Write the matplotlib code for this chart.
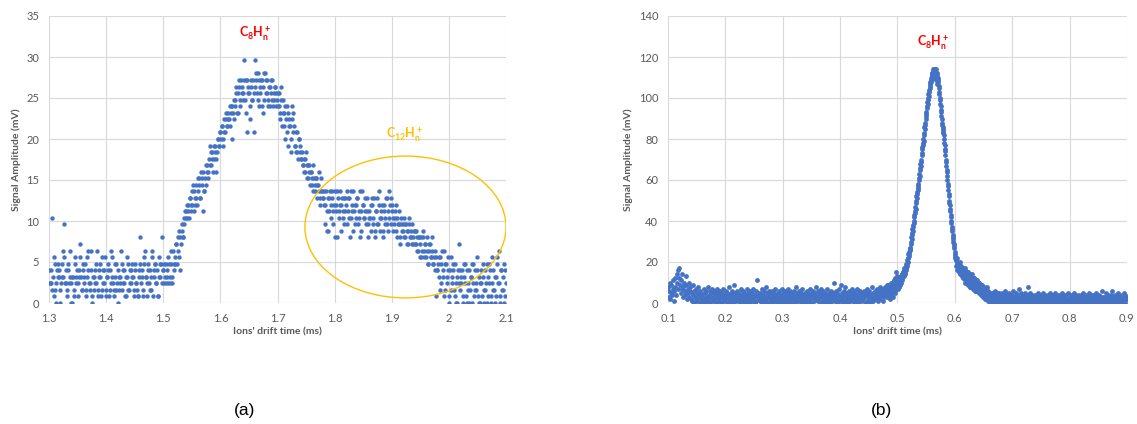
"""Ion drift-time spectra, panels (a) and (b)."""
import numpy as np
import matplotlib
matplotlib.use('Agg')
import matplotlib.pyplot as plt
from matplotlib.patches import Ellipse

# ---- panel (a): 1.3-2.1 ms, signal quantised in 0.8 mV steps ----
# two interleaved sample sets (even and odd microseconds)
a_step_mv = 0.8
a_even_start, a_even_end = 1.300, 2.100
a_levels = [
    5, 3, 3, 13, 7, 2, 0, 5, 6, 4, 0, 4, 8, 12, 3, 5, 2, 6, 4, 3,
    0, 4, 1, 7, 4, 3, 5, 9, 4, 2, 6, 4, 1, 7, 5, 3, 2, 8, 0, 4,
    5, 3, 8, 1, 4, 6, 2, 5, 3, 7, 1, 4, 5, 2, 8, 4, 3, 1, 6, 2,
    0, 4, 3, 8, 2, 5, 3, 1, 4, 6, 2, 3, 5, 4, 1, 6, 3, 2, 1, 5,
    10, 4, 1, 6, 8, 4, 3, 5, 2, 4, 7, 1, 5, 6, 3, 1, 7, 4, 6, 10,
    5, 3, 6, 4, 3, 6, 4, 8, 3, 6, 7, 9, 6, 10, 11, 5, 12, 10, 13, 14,
    14, 13, 15, 16, 14, 15, 18, 17, 15, 16, 19, 18, 16, 20, 19, 14, 17, 21, 20, 19,
    22, 24, 21, 23, 22, 24, 20, 23, 25, 24, 26, 27, 25, 28, 26, 29, 27, 28, 30, 29,
    25, 29, 31, 30, 32, 29, 33, 31, 34, 32, 31, 37, 34, 26, 33, 32, 28, 34, 31, 26,
    37, 34, 32, 35, 30, 33, 34, 29, 31, 35, 34, 32, 30, 33, 34, 31, 30, 32, 33, 30,
    32, 30, 29, 33, 27, 31, 29, 25, 30, 24, 28, 27, 23, 30, 29, 24, 23, 26, 22, 25,
    23, 22, 21, 22, 20, 23, 21, 19, 21, 20, 18, 21, 19, 17, 19, 18, 20, 16, 19, 17,
    16, 17, 15, 11, 16, 14, 17, 15, 16, 14, 17, 15, 10, 16, 14, 17, 15, 13, 16, 14,
    15, 17, 14, 16, 13, 15, 17, 14, 12, 15, 16, 13, 10, 14, 17, 15, 13, 14, 16, 12,
    14, 13, 15, 16, 13, 11, 14, 16, 12, 15, 13, 14, 11, 15, 13, 16, 12, 14, 17, 16,
    15, 13, 12, 14, 11, 13, 12, 10, 13, 11, 12, 10, 12, 11, 9, 12, 10, 11, 9, 10,
    11, 9, 10, 8, 10, 9, 7, 10, 8, 9, 7, 8, 6, 9, 7, 8, 6, 7, 5, 1,
    5, 7, 2, 6, 8, 4, 1, 6, 3, 7, 0, 5, 2, 4, 6, 1, 3, 0, 5, 9,
    2, 4, 0, 6, 3, 1, 5, 2, 0, 4, 6, 3, 1, 5, 2, 7, 0, 3, 5, 1,
    4, 0, 2, 6, 1, 3, 5, 0, 7, 2, 4, 1, 6, 3, 8, 0, 5, 2, 6, 1,
    3,
]
a_odd_start, a_odd_end = 1.301, 2.099
a_levels_odd = [
    3, 5, 2, 4, 1, 6, 3, 4, 5, 2, 3, 6, 4, 7, 3, 1, 5, 3, 8, 0,
    4, 2, 6, 3, 5, 1, 4, 7, 2, 5, 3, 6, 2, 4, 8, 3, 5, 1, 4, 2,
    3, 6, 2, 5, 4, 1, 7, 3, 5, 2, 4, 6, 1, 5, 3, 7, 2, 4, 6, 3,
    5, 2, 4, 6, 3, 5, 1, 4, 7, 2, 5, 3, 6, 4, 2, 5, 3, 1, 4, 6,
    3, 5, 2, 7, 4, 1, 6, 3, 5, 2, 8, 4, 6, 3, 5, 1, 4, 6, 3, 5,
    6, 4, 3, 5, 7, 3, 6, 4, 8, 5, 6, 9, 8, 7, 10, 9, 11, 10, 12, 13,
    15, 14, 13, 16, 15, 17, 14, 16, 18, 15, 17, 19, 16, 18, 20, 17, 19, 18, 21, 20,
    21, 23, 22, 20, 24, 23, 22, 25, 24, 26, 25, 27, 24, 26, 28, 27, 29, 28, 27, 30,
    30, 28, 31, 33, 29, 32, 34, 30, 33, 32, 34, 31, 29, 34, 32, 30, 33, 31, 34, 32,
    33, 35, 31, 34, 32, 34, 30, 33, 35, 32, 34, 31, 33, 30, 32, 34, 31, 33, 32, 31,
    30, 32, 28, 31, 29, 27, 30, 28, 26, 29, 27, 25, 28, 26, 27, 24, 26, 23, 25, 24,
    22, 23, 21, 20, 22, 19, 21, 20, 18, 20, 19, 17, 18, 19, 16, 18, 17, 15, 17, 16,
    15, 12, 17, 14, 11, 16, 13, 17, 12, 15, 10, 14, 17, 13, 15, 11, 16, 14, 12, 16,
    12, 16, 13, 10, 17, 14, 11, 15, 13, 16, 12, 14, 17, 11, 15, 13, 16, 12, 14, 10,
    13, 11, 15, 12, 16, 10, 14, 12, 17, 11, 13, 15, 10, 14, 12, 16, 11, 13, 15, 12,
    14, 11, 13, 15, 10, 12, 14, 9, 12, 11, 13, 10, 12, 9, 11, 13, 10, 12, 9, 11,
    9, 11, 8, 10, 7, 10, 8, 11, 7, 9, 10, 6, 8, 9, 7, 10, 6, 8, 7, 5,
    6, 4, 7, 3, 5, 8, 2, 6, 4, 5, 1, 7, 3, 5, 2, 6, 0, 4, 3, 5,
    3, 5, 1, 4, 6, 0, 3, 5, 2, 4, 0, 6, 2, 3, 5, 1, 4, 0, 3, 6,
    2, 5, 3, 0, 4, 6, 1, 3, 5, 2, 0, 4, 7, 3, 1, 5, 2, 4, 0, 5,
]

# ---- panel (b): 0.1-0.9 ms, signal in mV ----
b_start, b_end = 0.1, 0.9
b_signal = [
    8, 3, 6, 10, 2, 5, 9, 4, 7, 11, 1, 6, 12, 8, 4, 10, 14, 7, 16, 17,
    12, 9, 5, 11, 7, 14, 3, 8, 10, 6, 4, 9, 13, 2, 7, 5, 10, 3, 6, 8,
    2, 5, 1, 9, 4, 0, 6, 3, 7, 2, 5, 1, 4, 8, 3, 0, 6, 2, 5, 3,
    4, 1, 7, 2, 5, 0, 3, 6, 2, 8, 1, 4, 3, 6, 0, 5, 2, 7, 3, 1,
    5, 2, 6, 0, 4, 3, 7, 1, 5, 2, 4, 6, 0, 3, 5, 1, 7, 2, 4, 3,
    1, 6, 3, 5, 0, 4, 2, 8, 3, 1, 5, 2, 6, 0, 4, 9, 2, 5, 1, 3,
    6, 2, 4, 1, 5, 3, 0, 7, 2, 4, 6, 1, 3, 5, 2, 0, 4, 7, 1, 3,
    5, 2, 0, 6, 3, 4, 1, 5, 2, 7, 3, 0, 4, 6, 1, 11, 3, 5, 2, 4,
    1, 5, 3, 7, 0, 4, 2, 6, 3, 1, 8, 2, 5, 0, 4, 3, 6, 1, 5, 2,
    4, 0, 6, 3, 2, 5, 1, 7, 3, 4, 0, 5, 2, 6, 3, 1, 4, 2, 7, 0,
    3, 5, 1, 4, 6, 2, 0, 5, 3, 7, 1, 4, 2, 6, 0, 3, 5, 2, 4, 1,
    6, 3, 0, 8, 2, 5, 1, 4, 3, 6, 2, 0, 5, 3, 7, 1, 4, 2, 5, 3,
    0, 4, 6, 2, 5, 1, 3, 7, 2, 4, 0, 5, 3, 6, 1, 4, 2, 5, 8, 3,
    2, 6, 1, 4, 3, 5, 0, 7, 2, 4, 6, 1, 3, 0, 5, 2, 4, 7, 1, 3,
    5, 2, 4, 0, 6, 3, 1, 5, 2, 10, 4, 1, 6, 3, 0, 5, 2, 4, 7, 3,
    1, 9, 3, 5, 2, 0, 6, 4, 1, 8, 3, 5, 2, 4, 0, 6, 3, 1, 5, 2,
    4, 7, 2, 5, 0, 3, 6, 1, 4, 2, 7, 3, 0, 5, 2, 6, 4, 1, 3, 5,
    2, 6, 3, 0, 5, 4, 1, 7, 3, 5, 2, 6, 0, 4, 3, 8, 2, 5, 1, 4,
    6, 3, 5, 2, 7, 4, 1, 6, 3, 8, 2, 5, 4, 7, 1, 6, 3, 5, 8, 4,
    5, 8, 3, 6, 9, 4, 7, 2, 8, 5, 10, 6, 3, 9, 7, 11, 5, 8, 15, 10,
    9, 7, 11, 8, 12, 10, 13, 11, 14, 13, 15, 14, 17, 15, 18, 17, 19, 21, 22, 24,
    25, 26, 27, 30, 32, 33, 36, 38, 40, 43, 45, 47, 50, 52, 54, 56, 58, 61, 63, 66,
    68, 70, 73, 76, 78, 80, 83, 86, 88, 91, 93, 96, 98, 100, 102, 104, 105, 107, 109, 110,
    111, 112, 113, 114, 112, 114, 113, 114, 112, 110, 108, 110, 105, 102, 99, 96, 93, 90, 87, 85,
    84, 80, 77, 74, 70, 67, 64, 60, 57, 53, 50, 48, 45, 42, 39, 36, 33, 31, 29, 27,
    24, 22, 21, 19, 20, 17, 18, 16, 19, 15, 17, 14, 16, 13, 15, 12, 14, 17, 11, 13,
    14, 10, 12, 15, 9, 13, 11, 8, 12, 10, 14, 7, 11, 9, 12, 6, 10, 8, 11, 7,
    9, 6, 10, 5, 8, 7, 4, 9, 6, 3, 8, 5, 7, 2, 6, 4, 8, 3, 5, 2,
    4, 1, 5, 3, 0, 4, 2, 5, 1, 3, 6, 0, 2, 4, 1, 3, 0, 5, 2, 1,
    3, 0, 2, 5, 1, 4, 0, 3, 6, 2, 1, 4, 0, 3, 2, 5, 1, 0, 3, 2,
    4, 1, 6, 2, 0, 3, 5, 1, 2, 4, 0, 3, 7, 1, 2, 5, 0, 3, 1, 4,
    2, 0, 5, 3, 1, 4, 2, 8, 0, 3, 1, 5, 2, 0, 4, 1, 3, 2, 0, 4,
    1, 3, 0, 4, 2, 5, 1, 0, 3, 2, 4, 1, 0, 3, 5, 2, 1, 4, 0, 2,
    3, 1, 4, 0, 2, 5, 1, 3, 0, 2, 4, 1, 3, 0, 5, 2, 1, 3, 0, 4,
    2, 0, 3, 1, 4, 2, 0, 5, 1, 3, 2, 0, 4, 1, 3, 0, 2, 5, 1, 2,
    0, 3, 1, 4, 2, 0, 3, 1, 5, 2, 0, 4, 1, 3, 2, 0, 4, 1, 2, 3,
    1, 4, 0, 2, 5, 1, 3, 0, 2, 4, 1, 0, 3, 2, 5, 1, 0, 3, 2, 4,
    0, 2, 4, 1, 3, 0, 5, 2, 1, 3, 0, 2, 4, 1, 0, 3, 2, 6, 1, 3,
    2, 0, 3, 1, 5, 2, 0, 4, 1, 3, 2, 0, 4, 1, 6, 2, 0, 3, 1, 4,
    1, 3, 0, 2, 5, 1, 3, 0, 4, 2, 1, 3, 0, 2, 5, 1, 4, 0, 2, 3,
    2,
]
# second pass over the peak region (half-microsecond offset)
b_peak_start, b_peak_end = 0.4805, 0.6995
b_peak_signal = [
    6, 4, 9, 5, 7, 3, 8, 6, 10, 4, 7, 9, 5, 11, 8, 6, 12, 9, 13, 11,
    10, 8, 12, 9, 11, 13, 10, 14, 12, 15, 13, 16, 14, 17, 16, 19, 18, 20, 22, 23,
    24, 27, 26, 29, 31, 34, 35, 37, 39, 42, 44, 46, 49, 51, 53, 55, 57, 60, 62, 65,
    67, 69, 72, 75, 77, 79, 82, 85, 87, 90, 92, 95, 97, 99, 101, 103, 106, 108, 108, 111,
    112, 110, 114, 113, 111, 113, 112, 109, 111, 107, 109, 106, 103, 100, 97, 94, 91, 88, 86, 83,
    82, 78, 75, 72, 69, 65, 62, 58, 55, 52, 49, 46, 43, 40, 37, 35, 32, 30, 28, 25,
    23, 21, 18, 22, 16, 19, 15, 17, 20, 14, 16, 18, 13, 15, 17, 12, 14, 16, 10, 12,
    12, 15, 9, 11, 13, 8, 12, 10, 14, 9, 11, 8, 12, 7, 10, 9, 11, 6, 9, 8,
    7, 10, 5, 8, 6, 9, 4, 7, 5, 8, 3, 6, 4, 7, 2, 5, 3, 6, 1, 4,
    3, 0, 4, 2, 5, 1, 3, 0, 2, 4, 1, 3, 0, 2, 5, 1, 3, 0, 2, 4,
    2, 4, 1, 3, 0, 2, 5, 1, 3, 0, 2, 4, 1, 3, 0, 2, 1, 4, 0, 3,
]

BLUE = '#4472C4'
GREY = '#595959'
GRID = '#D9D9D9'

plt.rcParams['font.family'] = ['Lato', 'DejaVu Sans']
plt.rcParams['mathtext.fontset'] = 'custom'
plt.rcParams['mathtext.bf'] = 'Lato:bold'
plt.rcParams['mathtext.rm'] = 'Lato'


def style_axes(ax, xlim, xticks, ylim, yticks):
    ax.set_xlim(*xlim)
    ax.set_ylim(*ylim)
    ax.set_xticks(xticks)
    ax.set_yticks(yticks)
    ax.set_xticklabels(['{:g}'.format(t) for t in xticks])
    ax.grid(True, color=GRID, lw=0.8)
    ax.set_axisbelow(True)
    for s in ax.spines.values():
        s.set_visible(False)
    ax.tick_params(length=0, labelsize=8, labelcolor=GREY, pad=7)
    ax.set_xlabel("Ions' drift time (ms)", fontsize=7.5, fontweight='bold',
                  color=GREY, labelpad=3)
    ax.set_ylabel('Signal Amplitude (mV)', fontsize=7.5, fontweight='bold',
                  color=GREY, labelpad=4)


fig = plt.figure(figsize=(11.37, 4.24), dpi=100)

# panel (a)
ax1 = fig.add_axes([49 / 1137, 121 / 424, 457 / 1137, 287 / 424])
xa = np.linspace(a_even_start, a_even_end, len(a_levels))
xa2 = np.linspace(a_odd_start, a_odd_end, len(a_levels_odd))
ax1.scatter(xa, np.array(a_levels) * a_step_mv, s=10, color=BLUE, lw=0, zorder=3)
ax1.scatter(xa2, np.array(a_levels_odd) * a_step_mv, s=10, color=BLUE, lw=0, zorder=3)
style_axes(ax1, (1.3, 2.1), np.arange(1.3, 2.11, 0.1).round(1),
           (0, 35), range(0, 36, 5))
ax1.text(1.66, 32.9, r'$\mathbf{C_8H_n^+}$', color='#FF0000', fontsize=9,
         ha='center', va='center')
ax1.text(1.923, 20.5, r'$\mathbf{C_{12}H_n^+}$', color='#FFC000', fontsize=9,
         ha='center', va='center')
ax1.add_patch(Ellipse((1.924, 9.27), 0.352, 17.3, fill=False,
                      edgecolor='#FFC000', lw=1, zorder=4))

# panel (b)
ax2 = fig.add_axes([668 / 1137, 121 / 424, 459 / 1137, 287 / 424])
xb = np.linspace(b_start, b_end, len(b_signal))
xb2 = np.linspace(b_peak_start, b_peak_end, len(b_peak_signal))
ax2.scatter(xb, b_signal, s=12, color=BLUE, lw=0, zorder=3)
ax2.scatter(xb2, b_peak_signal, s=12, color=BLUE, lw=0, zorder=3)
style_axes(ax2, (0.1, 0.9), np.arange(0.1, 0.91, 0.1).round(1),
           (0, 140), range(0, 141, 20))
ax2.text(0.562, 126.8, r'$\mathbf{C_8H_n^+}$', color='#FF0000', fontsize=9,
         ha='center', va='center')

fig.text(245 / 1137, 1 - 410 / 424, '(a)', family='Liberation Sans',
         fontsize=12.5, ha='center', va='center')
fig.text(882 / 1137, 1 - 410 / 424, '(b)', family='Liberation Sans',
         fontsize=12.5, ha='center', va='center')

fig.savefig('out.png', dpi=100)
plt.close(fig)
